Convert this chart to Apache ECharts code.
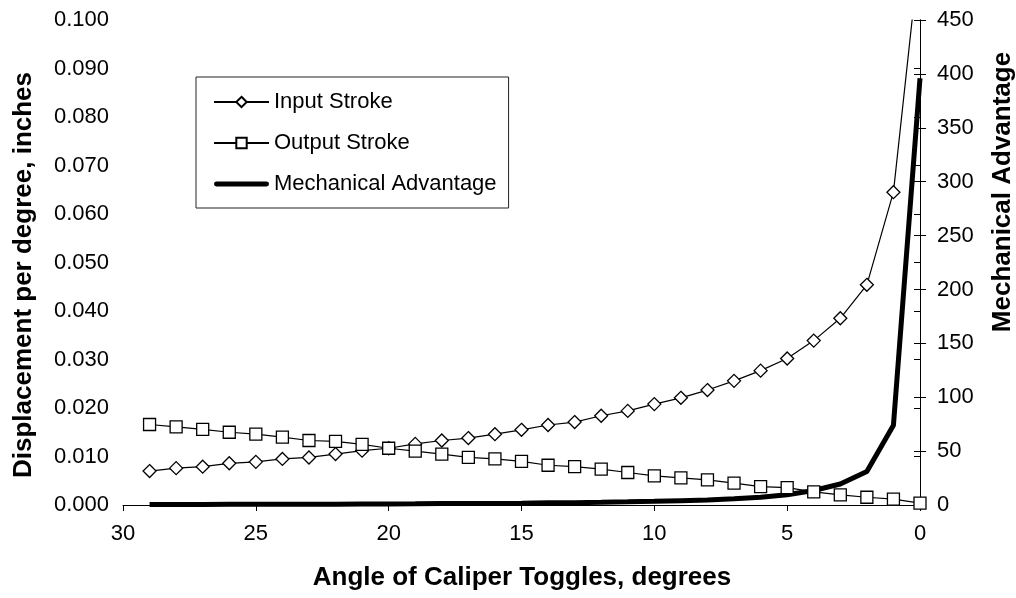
<!DOCTYPE html>
<html>
<head>
<meta charset="utf-8">
<script src="https://cdn.jsdelivr.net/npm/echarts@6/dist/echarts.min.js"></script>
<style>
  html, body { margin: 0; padding: 0; background: #fff; }
  #chart { width: 1016px; height: 598px; }
</style>
</head>
<body>
<div id="chart"></div>
<script>
// Toggle angle, degrees
const angles = [29, 28, 27, 26, 25, 24, 23, 22, 21, 20, 19, 18, 17, 16, 15,
                14, 13, 12, 11, 10, 9, 8, 7, 6, 5, 4, 3, 2, 1, 0];
// Displacement per degree, inches
const inputStroke = [0.0070, 0.0076, 0.0079, 0.0086, 0.0089, 0.0095, 0.0098, 0.0105, 0.0112, 0.0117,
                     0.0126, 0.0133, 0.0138, 0.0146, 0.0155, 0.0165, 0.0171, 0.0184, 0.0194, 0.0208,
                     0.0221, 0.0237, 0.0256, 0.0277, 0.0302, 0.0339, 0.0385, 0.0454, 0.0645, 0.1150];
const outputStroke = [0.0166, 0.0161, 0.0156, 0.0150, 0.0146, 0.0140, 0.0133, 0.0131, 0.0125, 0.0117,
                      0.0111, 0.0105, 0.0098, 0.0095, 0.0090, 0.0082, 0.0079, 0.0074, 0.0067, 0.0060,
                      0.0056, 0.0052, 0.0045, 0.0038, 0.0036, 0.0027, 0.0021, 0.0016, 0.0012, 0.0004];
// Mechanical advantage (right axis)
const mechAdvantage = [0.4, 0.5, 0.5, 0.6, 0.6, 0.7, 0.8, 0.8, 0.9, 1.0,
                       1.1, 1.3, 1.4, 1.5, 1.7, 2.0, 2.2, 2.5, 2.9, 3.4,
                       4.0, 4.6, 5.7, 7.2, 9.5, 13.5, 19.5, 31, 74, 396];

const seriesNames = ['Input Stroke', 'Output Stroke', 'Mechanical Advantage'];
const xTitle = 'Angle of Caliper Toggles, degrees';
const yLeftTitle = 'Displacement per degree, inches';
const yRightTitle = 'Mechanical Advantage';

const pairs = (vals) => angles.map((a, i) => [a, vals[i]]);
const FONT = "'Liberation Sans', Arial, sans-serif";
const axisLabelStyle = { color: '#000', fontSize: 22, fontFamily: FONT };

const chart = echarts.init(document.getElementById('chart'), null, { renderer: 'canvas' });

chart.setOption({
  backgroundColor: '#fff',
  animation: false,
  textStyle: { fontFamily: FONT },
  grid: { left: 123, right: 96, top: 20, bottom: 93, containLabel: false },
  legend: {
    orient: 'vertical',
    left: 196,
    top: 77,
    data: [
      { name: seriesNames[0] },
      { name: seriesNames[1] },
      // thick plain stroke for the line drawn without markers
      { name: seriesNames[2], icon: 'path://M2,0 H53 A2.5,2.5 0 0 1 53,5 H2 A2.5,2.5 0 0 1 2,0 Z' }
    ],
    itemWidth: 55,
    itemHeight: 13,
    itemGap: 19,
    padding: [14, 12, 13, 17],
    borderColor: '#222',
    borderWidth: 1,
    textStyle: { color: '#000', fontSize: 22, fontFamily: FONT }
  },
  xAxis: {
    type: 'value',
    min: 0,
    max: 30,
    interval: 5,
    inverse: true,
    axisLine: { lineStyle: { color: '#000', width: 1 } },
    axisTick: { show: true, length: 6, lineStyle: { color: '#000' } },
    axisLabel: Object.assign({ margin: 18 }, axisLabelStyle),
    splitLine: { show: false }
  },
  yAxis: [
    {
      type: 'value',
      position: 'left',
      min: 0,
      max: 0.1,
      interval: 0.01,
      axisLine: { show: true, lineStyle: { color: '#000', width: 1 } },
      axisTick: { show: true, length: 6, lineStyle: { color: '#000' } },
      axisLabel: Object.assign({ margin: 14, formatter: (v) => v.toFixed(3) }, axisLabelStyle),
      splitLine: { show: false }
    },
    {
      type: 'value',
      position: 'right',
      min: 0,
      max: 450,
      interval: 50,
      axisLine: { show: true, lineStyle: { color: '#000', width: 1 } },
      axisTick: { show: true, length: 6, lineStyle: { color: '#000' } },
      axisLabel: Object.assign({ margin: 17 }, axisLabelStyle),
      splitLine: { show: false }
    },
    {
      // inner half of the crossing ticks on the right-hand axis
      type: 'value',
      position: 'right',
      min: 0,
      max: 450,
      interval: 50,
      axisLine: { show: false },
      axisTick: { show: true, inside: true, length: 6, lineStyle: { color: '#000' } },
      axisLabel: { show: false },
      splitLine: { show: false }
    }
  ],
  series: [
    {
      name: seriesNames[0],
      type: 'line',
      yAxisIndex: 0,
      data: pairs(inputStroke),
      symbol: 'diamond',
      symbolSize: 13,
      showAllSymbol: true,
      lineStyle: { color: '#000', width: 1.2 },
      itemStyle: { color: '#fff', borderColor: '#000', borderWidth: 1.3 },
      clip: true,
      z: 3
    },
    {
      name: seriesNames[1],
      type: 'line',
      yAxisIndex: 0,
      data: pairs(outputStroke),
      symbol: 'rect',
      symbolSize: 12,
      showAllSymbol: true,
      lineStyle: { color: '#000', width: 1.2 },
      itemStyle: { color: '#fff', borderColor: '#000', borderWidth: 1.3 },
      clip: true,
      z: 3
    },
    {
      name: seriesNames[2],
      type: 'line',
      yAxisIndex: 1,
      data: pairs(mechAdvantage),
      symbol: 'none',
      lineStyle: { color: '#000', width: 5 },
      itemStyle: { color: '#000' },
      clip: true,
      z: 2
    }
  ],
  graphic: [
    {
      type: 'text',
      x: 24, y: 275,
      rotation: Math.PI / 2,
      style: { text: yLeftTitle, fill: '#000', font: 'bold 26px ' + FONT, textAlign: 'center', textVerticalAlign: 'middle' }
    },
    {
      type: 'text',
      x: 1003, y: 192,
      rotation: Math.PI / 2,
      style: { text: yRightTitle, fill: '#000', font: 'bold 26px ' + FONT, textAlign: 'center', textVerticalAlign: 'middle' }
    },
    {
      type: 'text',
      x: 522, y: 578,
      style: { text: xTitle, fill: '#000', font: 'bold 26px ' + FONT, textAlign: 'center', textVerticalAlign: 'middle' }
    }
  ]
});
</script>
</body>
</html>
